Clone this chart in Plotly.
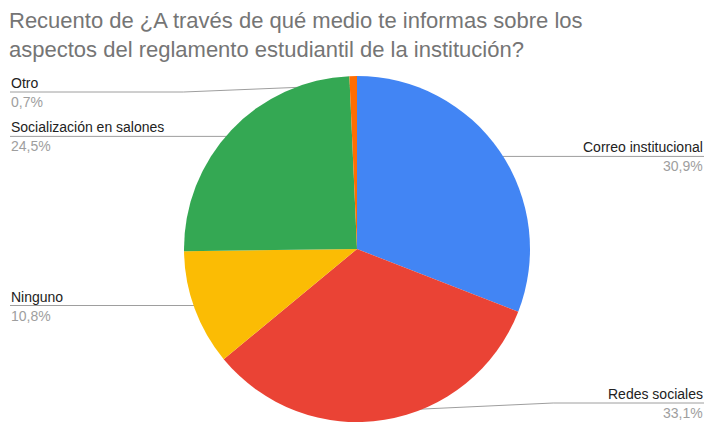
import math
import plotly.graph_objects as go

W, H = 707, 422

categories = ["Correo institucional", "Redes sociales", "Ninguno", "Socialización en salones", "Otro"]
values = [30.9, 33.1, 10.8, 24.5, 0.7]
pct_labels = ["30,9%", "33,1%", "10,8%", "24,5%", "0,7%"]
colors = ["#4285F4", "#EA4335", "#FBBC04", "#34A853", "#FF6D01"]

title = ("Recuento de ¿A través de qué medio te informas sobre los<br>"
         "aspectos del reglamento estudiantil de la institución?")

FONT = "Liberation Sans, Arial"

# pie geometry (pixels)
cx, cy, r = 357, 249, 173.5
dom_x = [(cx - r) / W, (cx + r) / W]
dom_y = [0.0, 2 * (H - cy) / H]

fig = go.Figure()
fig.add_trace(go.Pie(
    labels=categories, values=values, sort=False, direction="clockwise",
    rotation=0, marker=dict(colors=colors, line=dict(width=0)),
    textinfo="none", domain=dict(x=dom_x, y=dom_y), showlegend=False,
    hoverinfo="label+percent",
))

total = sum(values)
cum = 0.0
annotations = []
dot_x, dot_y = [], []
for name, v, p in zip(categories, values, pct_labels):
    mid = (cum + v / 2) / total * 2 * math.pi
    cum += v
    d = 0.945 * r
    dx = cx + d * math.sin(mid)
    dy = cy - d * math.cos(mid)
    dot_x.append(dx)
    dot_y.append(dy)
    ly = min(max(dy, 92), 403)
    left = math.sin(mid) < 0
    edge = 10 if left else 704
    bend = dx - 170 if left else dx + 170
    if abs(ly - dy) < 1:
        xs, ys = [edge, dx], [ly, ly]
    else:
        xs, ys = [edge, bend, dx], [ly, ly, dy]
    fig.add_trace(go.Scatter(x=xs, y=ys, mode="lines", line=dict(color="#9e9e9e", width=1),
                             hoverinfo="skip", showlegend=False))
    anchor = "left" if left else "right"
    annotations.append(dict(x=edge, y=ly, xref="x", yref="y", text=name, showarrow=False,
                            xanchor=anchor, yanchor="bottom", borderpad=0,
                            font=dict(family=FONT, size=14, color="#222222")))
    annotations.append(dict(x=edge, y=ly + 1, xref="x", yref="y", text=p, showarrow=False,
                            xanchor=anchor, yanchor="top", borderpad=0,
                            font=dict(family=FONT, size=14, color="#9e9e9e")))

fig.add_trace(go.Scatter(x=dot_x, y=dot_y, mode="markers",
                         marker=dict(color="#9e9e9e", size=5), hoverinfo="skip", showlegend=False))

annotations.append(dict(x=8, y=7, xref="x", yref="y", text=title, showarrow=False,
                        xanchor="left", yanchor="top", align="left", borderpad=0,
                        font=dict(family=FONT, size=22, color="#757575")))

fig.update_layout(
    width=W, height=H, margin=dict(l=0, r=0, t=0, b=0),
    paper_bgcolor="white", plot_bgcolor="rgba(0,0,0,0)",
    xaxis=dict(range=[0, W], visible=False, fixedrange=True, domain=[0, 1]),
    yaxis=dict(range=[H, 0], visible=False, fixedrange=True, domain=[0, 1]),
    annotations=annotations,
)

fig.write_html("out.html", config={"displayModeBar": False},
               post_script="document.body.style.margin='0';document.body.style.overflow='hidden';")
